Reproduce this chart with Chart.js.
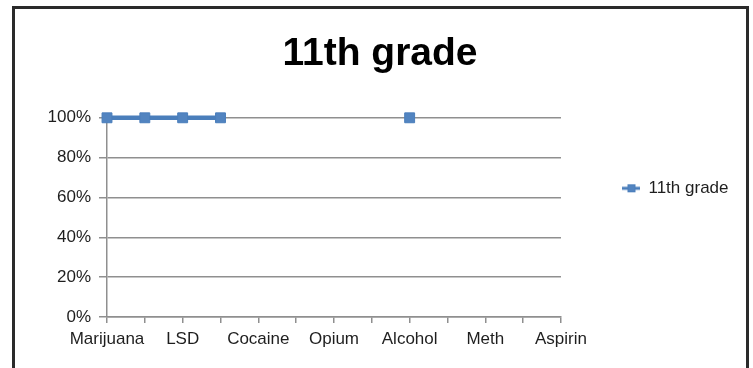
<!DOCTYPE html>
<html>
<head>
<meta charset="utf-8">
<script src="https://cdn.jsdelivr.net/npm/chart.js@4/dist/chart.umd.min.js"></script>
<style>
  html, body { margin: 0; padding: 0; background: #ffffff; }
  #wrap { position: relative; width: 753px; height: 368px; overflow: hidden; }
  #frame { position: absolute; left: 12px; top: 6px; width: 731px; height: 400px;
           border: 3px solid #2a2a2a; border-bottom: none; pointer-events: none; }
  #c { position: absolute; left: 0; top: 0; }
</style>
</head>
<body>
<div id="wrap">
  <div id="frame"></div>
  <canvas id="c" width="753" height="368"></canvas>
</div>
<script>
// Categories (only every other one is labelled in the reference)
const categories = ["Marijuana", "Ecstasy", "LSD", "Heroin", "Cocaine", "Inhalants", "Opium",
                    "Tobacco", "Alcohol", "Caffeine", "Meth", "Steroids", "Aspirin"];
const seriesName = "11th grade";
const seriesValues = [1, 1, 1, 1, null, null, null, null, 1, null, null, null, null];
const yTicks = [0, 0.2, 0.4, 0.6, 0.8, 1.0];

const blue = '#4A7EBB';
const markerFill = '#5284C0';
const gridColor = '#8f8f8f';
const textColor = '#1e1e1e';

// legend symbol: line with a square marker
const sym = document.createElement('canvas');
sym.width = 18; sym.height = 10;
(function () {
  const g = sym.getContext('2d');
  g.fillStyle = blue;
  g.fillRect(0, 3.5, 18, 3);
  g.fillStyle = markerFill;
  g.fillRect(5, 1, 8, 8);
  g.strokeStyle = blue; g.lineWidth = 1;
  g.strokeRect(5.5, 1.5, 7, 7);
})();

new Chart(document.getElementById('c'), {
  type: 'line',
  data: {
    labels: categories,
    datasets: [{
      label: seriesName,
      data: seriesValues,
      borderColor: blue,
      backgroundColor: markerFill,
      borderWidth: 4.5,
      pointStyle: 'rect',
      pointRadius: 7,
      pointBackgroundColor: markerFill,
      pointBorderColor: blue,
      pointBorderWidth: 1,
      spanGaps: false,
      tension: 0,
      clip: false
    }]
  },
  options: {
    responsive: false,
    animation: false,
    events: [],
    layout: { padding: { left: 21.5, right: 14.5, top: 0, bottom: 0 } },
    plugins: {
      title: {
        display: true,
        text: '11th grade',
        color: '#000000',
        font: { family: 'Liberation Sans', size: 39, weight: 'bold' },
        padding: { top: 31, bottom: 40 }
      },
      legend: {
        display: true,
        position: 'right',
        align: 'start',
        fullSize: false,
        labels: {
          color: textColor,
          font: { family: 'Liberation Sans', size: 17 },
          usePointStyle: true,
          boxWidth: 18,
          boxHeight: 10,
          padding: 62,
          generateLabels: (chart) => chart.data.datasets.map((ds, i) => ({
            text: ds.label,
            pointStyle: sym,
            fillStyle: markerFill,
            strokeStyle: blue,
            lineWidth: 0,
            datasetIndex: i,
            hidden: false,
            fontColor: textColor
          }))
        }
      },
      tooltip: { enabled: false }
    },
    scales: {
      x: {
        type: 'category',
        offset: false,
        afterFit: (s) => { s.height = 51; },
        border: { display: true, color: gridColor, width: 1.5 },
        grid: { display: true, drawOnChartArea: false, drawTicks: true, tickLength: 6,
                color: gridColor, lineWidth: 1.5 },
        ticks: {
          autoSkip: false, maxRotation: 0, minRotation: 0, padding: 6,
          color: textColor,
          font: { family: 'Liberation Sans', size: 17 },
          callback: function (val, idx) { return idx % 2 === 0 ? this.getLabelForValue(val) : ''; }
        }
      },
      y: {
        min: 0, max: 1,
        afterFit: (s) => { s.width = 85.5; },
        afterBuildTicks: (s) => { s.ticks = yTicks.map(v => ({ value: v })); },
        border: { display: true, color: gridColor, width: 1.5 },
        grid: { color: gridColor, lineWidth: 1.5, tickLength: 8 },
        ticks: {
          padding: 8,
          color: textColor,
          font: { family: 'Liberation Sans', size: 17 },
          callback: (v) => Math.round(v * 100) + '%'
        }
      }
    }
  }
});
</script>
</body>
</html>
